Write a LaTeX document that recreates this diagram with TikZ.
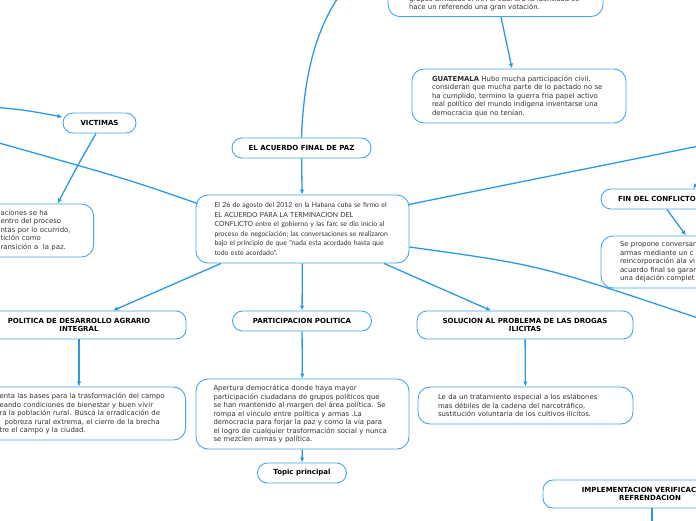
\documentclass[tikz,border=0pt]{standalone}
\usepackage{fontspec}
\setmainfont{DejaVu Sans}
\newfontfamily\latofont{Lato}
\usetikzlibrary{arrows.meta}
\definecolor{linkblue}{HTML}{2A9AE2}
\definecolor{edgeblue}{HTML}{45A7E8}
\definecolor{bodygray}{HTML}{333333}

\begin{document}
\begin{tikzpicture}[x=1pt, y=-1pt, >={Latex[length=5pt, width=4.5pt]},
  topic/.style={rectangle, draw=edgeblue, line width=0.9pt, rounded corners=10pt, fill=white, align=center, inner sep=0pt, text=black, font=\fontsize{7}{8.2}\selectfont\bfseries},
  note/.style={rectangle, draw=edgeblue, line width=0.9pt, rounded corners=12pt, fill=white, align=left, inner sep=0pt, text=bodygray, font=\fontsize{6.9}{8.5}\selectfont},
  link/.style={draw=linkblue, line width=1.3pt}]
  \useasboundingbox (0,0) rectangle (696,520);
  \clip (0,0) rectangle (696,520);
  \fill[white] (0,0) rectangle (696,520);
  {
  % nodes
  \node[note, anchor=south, minimum width=215pt, inner ysep=5.5pt, text width=173pt] (toptxt) at (495.5,17) {\rule{0pt}{22pt}grupos armados el IRA el cual era la identidad se\\hace un referendo una gran votación.};
  \node[note, minimum width=214pt, minimum height=54pt, text width=174pt] (guatemala) at (519,96) {\textbf{GUATEMALA} Hubo mucha participación civil,\\consideran que mucha parte de lo pactado no se\\ha cumplido, termino la guerra fria papel activo\\real político del mundo indigena inventarse una\\democracia que no tenían.};
  \node[topic, minimum width=73pt, minimum height=20pt] (victimas) at (99.5,123) {VICTIMAS};
  \node[note, anchor=east, inner xsep=19pt, minimum height=53pt, text width=74pt] (victxt) at (94,230.5) {aciones se ha\\entro del proceso\\ntas por lo ocurrido,\\tición como\\ransición a\ \ la paz.};
  \node[topic, minimum width=139pt, minimum height=20pt] (acuerdo) at (301.5,148) {EL ACUERDO FINAL DE PAZ};
  \node[note, minimum width=213pt, minimum height=68pt, text width=176pt, font=\latofont\fontsize{6.9}{9.5}\selectfont] (centro) at (302.5,229) {El 26 de agosto del 2012 en la Habana cuba se firmo el\\EL ACUERDO PARA LA TERMINACION DEL\\CONFLICTO entre el gobierno y las farc se dio inicio al\\proceso de negociación; las conversaciones se realizaron\\bajo el principio de que "nada esta acordado hasta que\\todo este acordado".};
  \node[topic, minimum width=112pt, minimum height=20pt] (fin) at (657,199) {FIN DEL CONFLICTO};
  \node[note, minimum width=214pt, minimum height=52pt, text width=176pt] (fintxt) at (708,262) {Se propone conversar\\armas mediante un c\\reincorporación ala vi\\acuerdo final se garan\\una dejación complet};
  \node[topic, minimum width=214pt, minimum height=28pt] (politica) at (79,325) {POLITICA DE DESARROLLO AGRARIO\\INTEGRAL};
  \node[note, anchor=east, inner xsep=18pt, minimum height=53pt, text width=168pt] (poltxt) at (186,413.5) {enta las bases para la trasformación del campo\\eando condiciones de bienestar y buen vivir\\ra la población rural. Busca la erradicación de\\\hspace*{5pt}pobreza rural extrema, el cierre de la brecha\\tre el campo y la ciudad.};
  \node[topic, minimum width=139pt, minimum height=20pt] (particip) at (302,321) {PARTICIPACION POLITICA};
  \node[note, minimum width=213pt, minimum height=70pt, text width=178pt] (partxt) at (302.5,414) {Apertura democrática donde haya mayor\\participación ciudadana de grupos políticos que\\se han mantenido al margen del área política. Se\\rompa el vinculo entre política y armas .La\\democracia para forjar la paz y como la vía para\\el logro de cualquier trasformación social y nunca\\se mezclen armas y política.};
  \node[topic, minimum width=89pt, minimum height=20pt] (principal) at (302,473) {Topic principal};
  \node[topic, minimum width=216pt, minimum height=28pt] (solucion) at (525,325) {SOLUCION AL PROBLEMA DE LAS DROGAS\\ILICITAS};
  \node[note, minimum width=215pt, minimum height=37pt, text width=175pt] (soltxt) at (525.5,405.5) {Le da un tratamiento especial a los eslabones\\mas débiles de la cadena del narcotráfico,\\sustitución voluntaria de los cultivos ilícitos.};
  \node[topic, minimum width=214pt, minimum height=28pt] (implement) at (650,494) {IMPLEMENTACION VERIFICACION Y\\REFRENDACION};

  % free ends outside the frame
  \coordinate (upper) at (342,-8);
  \coordinate (leftup) at (-8,107);
  \coordinate (leftmid) at (-8,141);
  \coordinate (rightup) at (704,145);
  \coordinate (finin) at (703,176);
  \coordinate (rightlow) at (704,320);
  \coordinate (implow) at (652,528);

  % connectors
  \draw[link] (acuerdo.north) .. controls (304,70) and (318,25) .. (upper);
  \draw[link, ->] (acuerdo) -- (centro);
  \draw[link] ([shift={(2,9)}]centro.north west) .. controls (130,180) .. (leftmid);
  \draw[link, ->] (leftup) .. controls (25,110) .. ([yshift=6pt]victimas.west);
  \draw[link, ->] ([xshift=-3.5pt]victimas.south) .. controls (79,163) .. ([xshift=20pt]victxt.north);
  \draw[link] ([shift={(-1,10)}]centro.north east) -- (rightup);
  \draw[link, ->] (finin) -- ([xshift=36pt]fin.north);
  \draw[link, ->] ([xshift=10pt]fin.south) -- ([xshift=-22pt]fintxt.north);
  \draw[link] ([yshift=-18pt]centro.east) .. controls (540,265) .. (rightlow);
  \draw[link, ->] ([xshift=-81.5pt]centro.south) -- ([xshift=34pt]politica.north);
  \draw[link, ->] (centro) -- (particip);
  \draw[link, ->] ([xshift=81.5pt]centro.south) -- ([xshift=-34pt]solucion.north);
  \draw[link, ->] (politica.south) -- (politica.south |- poltxt.north);
  \draw[link, ->] (particip) -- (partxt);
  \draw[link, ->] (partxt) -- (principal);
  \draw[link, ->] (solucion) -- (soltxt);
  \draw[link] ([xshift=2pt]implement.south) -- (implow);
  \draw[link, ->] ([xshift=5.5pt]toptxt.south) -- ([xshift=-7pt]guatemala.north);
  }
\end{tikzpicture}
\end{document}
